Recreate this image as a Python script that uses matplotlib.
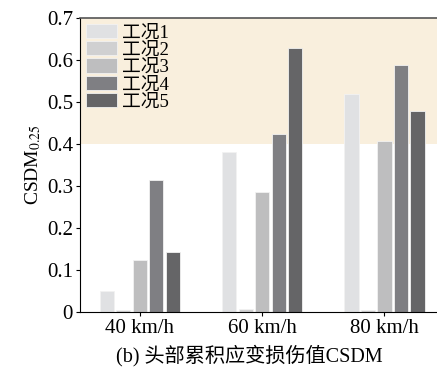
import numpy as np
import matplotlib
matplotlib.use("Agg")
import matplotlib.pyplot as plt

plt.rcParams['font.family'] = ['Liberation Serif', 'Noto Sans CJK SC']
plt.rcParams['mathtext.fontset'] = 'stix'

speeds = ['40 km/h', '60 km/h', '80 km/h']
cases = ['工况1', '工况2', '工况3', '工况4', '工况5']
csdm = {
    '工况1': [0.050, 0.382, 0.520],
    '工况2': [0.005, 0.006, 0.005],
    '工况3': [0.123, 0.285, 0.408],
    '工况4': [0.314, 0.423, 0.588],
    '工况5': [0.142, 0.630, 0.479],
}
colors = ['#e0e1e3', '#d0d0d1', '#bebebf', '#7f7f83', '#656567']

fig = plt.figure(figsize=(4.37, 3.78), dpi=100)
ax = fig.add_axes([0.183, 0.175, 0.82, 0.777])

x = np.arange(len(speeds))
width = 0.115
step = 0.135
for i, (case, c) in enumerate(zip(cases, colors)):
    ax.bar(x + (i - 2) * step, csdm[case], width, color=c, label=case,
           edgecolor='#f2f2f2', linewidth=0.6, zorder=2)

# highlighted band above the 0.4 threshold
ax.axhspan(0.4, 0.7, color='#f9efdd', zorder=0, lw=0)

ax.set_xlim(-0.49, 2.44)
ax.set_ylim(0, 0.7)
ax.set_xticks(x)
ax.set_xticklabels(speeds, fontsize=15)
ax.set_yticks(np.arange(0, 0.71, 0.1))
ax.set_yticklabels(['0'] + [f'{v:.1f}' for v in np.arange(0.1, 0.71, 0.1)], fontsize=15)
ax.tick_params(direction='out', length=3, width=0.8, pad=2)
ax.spines['right'].set_visible(False)
ax.spines['top'].set_color('#555555')
ax.spines['top'].set_linewidth(1.2)
ax.set_ylabel('CSDM$_{0.25}$', fontsize=14, labelpad=3)

ax.legend(loc='upper left', frameon=False, fontsize=13.5, handlelength=1.65,
          handleheight=0.8, labelspacing=-0.02, handletextpad=0.3,
          borderaxespad=0.2, borderpad=0.1)

fig.text(0.57, 0.06, '(b) 头部累积应变损伤值CSDM', ha='center', va='center', fontsize=14.5)

fig.savefig('out.png', dpi=100)
